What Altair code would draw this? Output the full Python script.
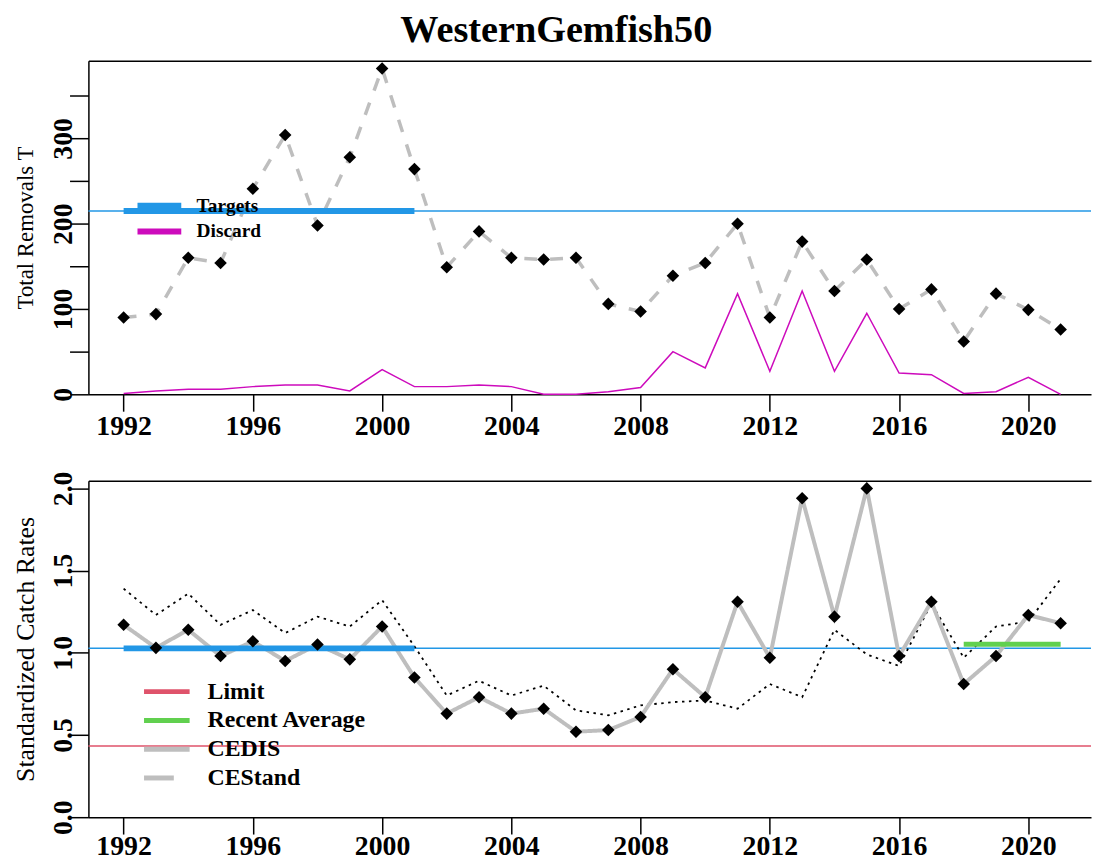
import altair as alt
import pandas as pd

# ---------------- data ----------------
years = list(range(1992, 2022))
removals = [90, 94, 160, 154, 241, 304, 198, 278, 382, 264, 149, 191, 160, 158, 160,
            106, 97, 139, 154, 200, 90, 179, 121, 158, 100, 123, 62, 118, 99, 76]
discard = [1, 4, 6, 6, 9, 11, 11, 4, 29, 9, 9, 11, 9, 0, 0,
           3, 8, 50, 31, 118, 27, 121, 27, 95, 25, 23, 1, 3, 20, 0]
cedis = [1.17, 1.03, 1.14, 0.98, 1.07, 0.95, 1.05, 0.96, 1.16, 0.85, 0.63, 0.73, 0.63, 0.66, 0.52,
         0.53, 0.61, 0.90, 0.73, 1.31, 0.97, 1.94, 1.22, 2.00, 0.98, 1.31, 0.81, 0.98, 1.23, 1.18]
cestand = [1.39, 1.23, 1.36, 1.17, 1.26, 1.12, 1.22, 1.16, 1.32, 1.04, 0.74, 0.83, 0.74, 0.80, 0.65,
           0.62, 0.68, 0.70, 0.71, 0.66, 0.81, 0.73, 1.14, 0.99, 0.92, 1.30, 0.97, 1.16, 1.19, 1.45]

target_catch = 215
target_cpue = 1.027
limit_cpue = 0.433
recent_avg = 1.052
target_years = [1992, 2001]
recent_years = [2018, 2021]

x_ticks = [1992, 1996, 2000, 2004, 2008, 2012, 2016, 2020]
top_y_ticks = [0, 50, 100, 150, 200, 250, 300, 350]
bot_y_ticks = [0.0, 0.5, 1.0, 1.5, 2.0]

top_series = ["Targets", "Discard"]
bot_series = ["Limit", "Recent Average", "CEDIS", "CEStand"]

# ---------------- styling ----------------
SERIF = "Liberation Serif"
BLUE = "#2297E6"
MAGENTA = "#CD0BBC"
RED = "#DF536B"
GREEN = "#61D04F"
GREY = "#BEBEBE"

W = 1010
H_TOP = 336
H_BOT = 339

df = pd.DataFrame({"year": years, "removals": removals, "discard": discard,
                   "cedis": cedis, "cestand": cestand})
tgt_top = pd.DataFrame({"series": ["Targets"], "value": [target_catch],
                        "start": [target_years[0]], "end": [target_years[1]]})
tgt_bot = pd.DataFrame({"value": [target_cpue], "start": [target_years[0]], "end": [target_years[1]]})
lim_df = pd.DataFrame({"series": ["Limit"], "value": [limit_cpue]})
avg_df = pd.DataFrame({"series": ["Recent Average"], "value": [recent_avg],
                       "start": [recent_years[0]], "end": [recent_years[1]]})

xscale = alt.Scale(domain=[1990.91, 2021.94], nice=False, zero=False)
ytop = alt.Scale(domain=[0, 391], nice=False, zero=False)
ybot = alt.Scale(domain=[0, 2.047], nice=False, zero=False)


def x_axis(pad):
    return alt.Axis(orient="bottom", values=x_ticks, format="d", title=None, grid=False,
                    tickSize=17, tickWidth=1.5, tickColor="black",
                    domainColor="black", domainWidth=1.5,
                    labelFont=SERIF, labelFontSize=28, labelFontWeight="bold",
                    labelColor="black", labelPadding=pad, labelOverlap=False, labelFlush=False)


x_top_axis = alt.Axis(orient="top", labels=False, ticks=False, domain=True, domainColor="black",
                      domainWidth=1.5, grid=False, title=None)


def y_axis(title, values, fmt, label_expr, h, title_size):
    kw = dict(orient="left", values=values, format=fmt, grid=False,
              tickSize=19, tickWidth=1.5, tickColor="black",
              domainColor="black", domainWidth=1.5,
              labelFont=SERIF, labelFontSize=28, labelFontWeight="bold", labelColor="black",
              labelAngle=270, labelAlign="center", labelBaseline="alphabetic",
              labelPadding=-2.4, labelOverlap=False, labelFlush=False,
              title=title, titleFont=SERIF, titleFontSize=title_size, titleFontWeight="normal",
              titleColor="black", titleAngle=270, titleAlign="center", titleBaseline="middle",
              titleX=-63, titleY=h / 2)
    if label_expr:
        kw["labelExpr"] = label_expr
    return alt.Axis(**kw)


ytop_axis = y_axis("Total Removals T", top_y_ticks, "d",
                   "datum.value % 100 == 0 ? datum.label : ''", H_TOP, 23)
ybot_axis = y_axis("Standardized Catch Rates", bot_y_ticks, ".1f", None, H_BOT, 26)

top_legend = alt.Legend(title=None, orient="none", legendX=58, legendY=132.5,
                        symbolType="M-2.1,0L2.1,0", symbolSize=441, symbolStrokeWidth=6,
                        labelFont=SERIF, labelFontSize=19.5, labelFontWeight="bold",
                        labelColor="black", labelOffset=24, rowPadding=0, padding=0, labelLimit=0)
bot_legend = alt.Legend(title=None, orient="none", legendX=62, legendY=195.5,
                        symbolType="M-1.6,0L1.6,0", symbolSize=824, symbolStrokeWidth=5,
                        labelFont=SERIF, labelFontSize=24, labelFontWeight="bold",
                        labelColor="black", labelOffset=24, rowPadding=0, padding=0, labelLimit=0)

top_color = alt.Color("series:N", scale=alt.Scale(domain=top_series, range=[BLUE, MAGENTA]),
                      legend=top_legend)
bot_color = alt.Color("series:N", scale=alt.Scale(domain=bot_series, range=[RED, GREEN, GREY, GREY]),
                      legend=bot_legend)
bot_dash = alt.StrokeDash("series:N",
                          scale=alt.Scale(domain=bot_series, range=[[1, 0], [1, 0], [1, 0], [30, 20]]),
                          legend=bot_legend)

# ---------------- top panel ----------------
base = alt.Chart(df)
Yt = lambda f: alt.Y(f, scale=ytop, axis=ytop_axis)
Yb = lambda f: alt.Y(f, scale=ybot, axis=ybot_axis)

discard_line = base.transform_calculate(series="'Discard'").mark_line(strokeWidth=1.5).encode(
    x=alt.X("year:Q", scale=xscale, axis=None),
    y=Yt("discard:Q"),
    color=top_color,
)
removals_line = base.mark_line(color=GREY, strokeWidth=3.5, strokeDash=[13, 13]).encode(
    x=alt.X("year:Q", scale=xscale, axis=x_axis(1.5)),
    y=Yt("removals:Q"),
)
target_thin_top = alt.Chart(tgt_top).mark_rule(color=BLUE, strokeWidth=1.5).encode(
    y=Yt("value:Q"),
)
target_thick_top = alt.Chart(tgt_top).mark_rule(strokeWidth=6).encode(
    x=alt.X("start:Q", scale=xscale, axis=None),
    x2="end:Q",
    y=Yt("value:Q"),
    color=top_color,
)
removals_pts = base.mark_point(shape="diamond", filled=True, color="black", size=160, opacity=1).encode(
    x=alt.X("year:Q", scale=xscale, axis=x_top_axis),
    y=Yt("removals:Q"),
)

top = alt.layer(discard_line, removals_line, target_thin_top, target_thick_top, removals_pts).properties(
    width=W, height=H_TOP)

# ---------------- bottom panel ----------------
limit_rule = alt.Chart(lim_df).mark_rule(strokeWidth=1.5).encode(
    y=Yb("value:Q"),
    color=bot_color, strokeDash=bot_dash,
)
target_thin_bot = alt.Chart(tgt_bot).mark_rule(color=BLUE, strokeWidth=1.5).encode(
    y=Yb("value:Q"),
)
cestand_line = base.mark_line(color="black", strokeWidth=1.8, strokeDash=[2.5, 4.5]).encode(
    x=alt.X("year:Q", scale=xscale, axis=None),
    y=Yb("cestand:Q"),
)
cedis_line = base.transform_calculate(series="'CEDIS'").mark_line(strokeWidth=4).encode(
    x=alt.X("year:Q", scale=xscale, axis=x_axis(-1.5)),
    y=Yb("cedis:Q"),
    color=bot_color, strokeDash=bot_dash,
)
avg_rule = alt.Chart(avg_df).mark_rule(strokeWidth=5).encode(
    x=alt.X("start:Q", scale=xscale, axis=None),
    x2="end:Q",
    y=Yb("value:Q"),
    color=bot_color, strokeDash=bot_dash,
)
target_thick_bot = alt.Chart(tgt_bot).mark_rule(color=BLUE, strokeWidth=6).encode(
    x=alt.X("start:Q", scale=xscale, axis=None),
    x2="end:Q",
    y=Yb("value:Q"),
)
cedis_pts = base.mark_point(shape="diamond", filled=True, color="black", size=160, opacity=1).encode(
    x=alt.X("year:Q", scale=xscale, axis=x_top_axis),
    y=Yb("cedis:Q"),
)

bottom = alt.layer(limit_rule, target_thin_bot, cestand_line, cedis_line, avg_rule,
                   target_thick_bot, cedis_pts).properties(width=W, height=H_BOT)

chart = alt.vconcat(top, bottom, spacing=87, bounds="flush").resolve_scale(
    color="independent", strokeDash="independent"
).resolve_legend(
    color="independent", strokeDash="independent"
).properties(
    title=alt.Title("WesternGemfish50", font=SERIF, fontSize=38.5, fontWeight="bold",
                    color="black", anchor="middle", frame="bounds", offset=10, dx=4),
    padding={"left": 4, "top": 0, "right": 0, "bottom": 0},
    background="white",
).configure_view(stroke="transparent")

chart.save("out.html", embed_options={"renderer": "svg", "actions": False})
